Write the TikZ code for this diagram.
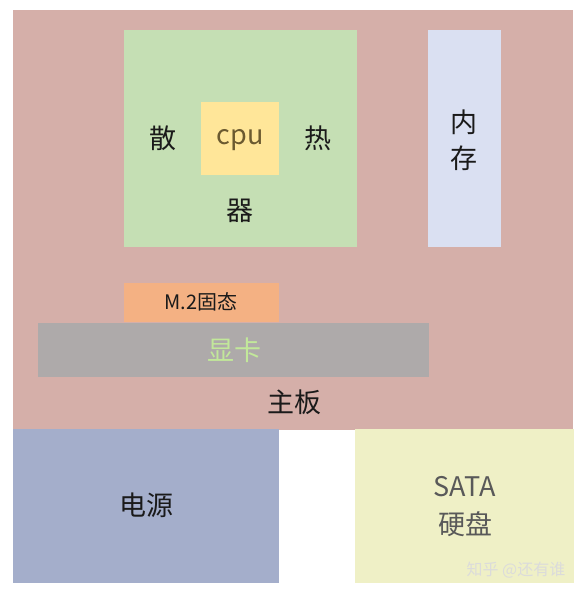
\documentclass[tikz,border=0pt]{standalone}
\usepackage{fontspec}
\setmainfont{Noto Sans CJK SC}
\usetikzlibrary{positioning}

\definecolor{boardcol}{HTML}{D5AFA9}
\definecolor{coolercol}{HTML}{C5DFB4}
\definecolor{cpucol}{HTML}{FFE699}
\definecolor{cputext}{HTML}{6B5A30}
\definecolor{ramcol}{HTML}{DAE0F2}
\definecolor{ssdcol}{HTML}{F4B183}
\definecolor{gpucol}{HTML}{AEAAAA}
\definecolor{gputext}{HTML}{C2E89A}
\definecolor{psucol}{HTML}{A4AECB}
\definecolor{hddcol}{HTML}{EFF0C6}
\definecolor{inkcol}{HTML}{1A1A1A}

\begin{document}
\begin{tikzpicture}[x=1pt, y=-1pt,
  part/.style={inner sep=0pt, outer sep=0pt},
  label/.style={inner sep=0pt, text=inkcol, font=\fontsize{27}{30}\selectfont}]

\useasboundingbox [fill=white] (0,0) rectangle (585,596);

% boxes
\node [part, fill=boardcol, minimum width=560pt, minimum height=420pt] (board) at (293,220) {};
\node [part, fill=coolercol, minimum width=233pt, minimum height=217pt] (cooler) at (240.5,138.5) {};
\node [part, fill=cpucol, minimum width=78pt, minimum height=73pt] (cpu) at (240,138.5) {};
\node [part, fill=ramcol, minimum width=73pt, minimum height=217pt] (ram) at (464.5,138.5) {};
\node [part, fill=ssdcol, minimum width=155pt, minimum height=39pt] (ssd) at (201.5,302.5) {};
\node [part, fill=gpucol, minimum width=391pt, minimum height=54pt] (gpu) at (233.5,350) {};
\node [part, fill=psucol, minimum width=266pt, minimum height=154pt] (psu) at (146,506) {};
\node [part, fill=hddcol, minimum width=219pt, minimum height=154pt] (hdd) at (464.5,506) {};

% labels
\node [label] (san) at (163,138) {散};
\node [label, text=cputext] (cpuname) at (240,140) {cpu};
\node [label] (re) at (318,138) {热};
\node [label] (qi) at (240,211) {器};
\node [label] (nei) at (464,122) {内};
\node [label] (cun) at (464,158) {存};
\node [label, font=\fontsize{20}{22}\selectfont] (ssdname) at (201,302) {M.2固态};
\node [label, text=gputext] (gpuname) at (234,350) {显卡};
\node [label] (boardname) at (294,402) {主板};
\node [label] (psuname) at (146,505) {电源};
\node [label, text=black!65] (sata) at (465,487) {SATA};
\node [label, text=black!65] (hddname) at (465,524) {硬盘};
\node [label, text=white!72!gray, font=\fontsize{16}{18}\selectfont] (mark) at (516,570) {知乎 @还有谁};

\end{tikzpicture}
\end{document}
